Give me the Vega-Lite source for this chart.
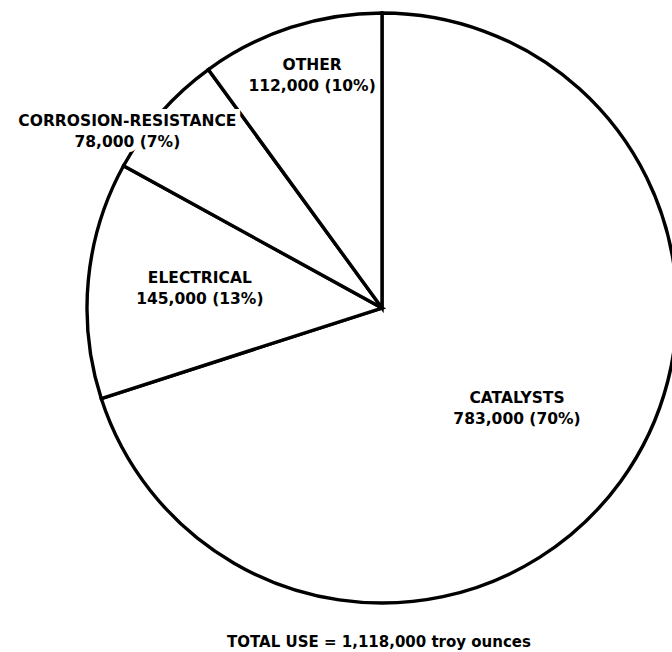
{
  "$schema": "https://vega.github.io/schema/vega-lite/v6.json",
  "width": 590,
  "height": 590,
  "autosize": "none",
  "padding": {"left": 87, "top": 13, "right": 0, "bottom": 49},
  "background": "white",
  "config": {"view": {"stroke": null}},
  "title": {
    "text": "TOTAL USE = 1,118,000 troy ounces",
    "orient": "bottom",
    "anchor": "middle",
    "font": "DejaVu Sans",
    "fontSize": 15,
    "fontWeight": "bold",
    "color": "black",
    "offset": 25,
    "dx": -3
  },
  "data": {
    "values": [
      {"use": "CATALYSTS", "ounces": 783000, "label": "CATALYSTS\n783,000 (70%)", "order": 1},
      {"use": "ELECTRICAL", "ounces": 145000, "label": "ELECTRICAL\n145,000 (13%)", "order": 2},
      {"use": "CORROSION-RESISTANCE", "ounces": 78000, "label": "CORROSION-RESISTANCE\n78,000 (7%)", "order": 3},
      {"use": "OTHER", "ounces": 112000, "label": "OTHER\n112,000 (10%)", "order": 4}
    ]
  },
  "encoding": {
    "theta": {"field": "ounces", "type": "quantitative", "stack": true},
    "order": {"field": "order", "type": "quantitative"}
  },
  "layer": [
    {"mark": {"type": "arc", "fill": "white", "stroke": "black", "strokeWidth": 3.4}},
    {
      "mark": {"type": "text", "radius": 167, "dy": -8, "font": "DejaVu Sans", "fontSize": 15.5, "fontWeight": "bold", "color": "black", "lineBreak": "\n", "lineHeight": 21, "baseline": "middle", "align": "center"},
      "encoding": {"text": {"condition": {"test": "datum.use === 'CATALYSTS'", "field": "label"}, "value": ""}}
    },
    {
      "mark": {"type": "text", "radius": 183, "dy": -12.5, "font": "DejaVu Sans", "fontSize": 15.5, "fontWeight": "bold", "color": "black", "lineBreak": "\n", "lineHeight": 21, "baseline": "middle", "align": "center"},
      "encoding": {"text": {"condition": {"test": "datum.use === 'ELECTRICAL'", "field": "label"}, "value": ""}}
    },
    {
      "mark": {"type": "text", "radius": 310, "dx": -22, "dy": 18, "font": "DejaVu Sans", "fontSize": 15.5, "fontWeight": "bold", "fill": "white", "stroke": "white", "strokeWidth": 10, "lineBreak": "\n", "lineHeight": 21, "baseline": "middle", "align": "center"},
      "encoding": {"text": {"condition": {"test": "datum.use === 'CORROSION-RESISTANCE'", "field": "label"}, "value": ""}}
    },
    {
      "mark": {"type": "text", "radius": 310, "dx": -22, "dy": 18, "font": "DejaVu Sans", "fontSize": 15.5, "fontWeight": "bold", "color": "black", "lineBreak": "\n", "lineHeight": 21, "baseline": "middle", "align": "center"},
      "encoding": {"text": {"condition": {"test": "datum.use === 'CORROSION-RESISTANCE'", "field": "label"}, "value": ""}}
    },
    {
      "mark": {"type": "text", "radius": 242, "dx": 5, "dy": -13, "font": "DejaVu Sans", "fontSize": 15.5, "fontWeight": "bold", "color": "black", "lineBreak": "\n", "lineHeight": 21, "baseline": "middle", "align": "center"},
      "encoding": {"text": {"condition": {"test": "datum.use === 'OTHER'", "field": "label"}, "value": ""}}
    }
  ]
}
